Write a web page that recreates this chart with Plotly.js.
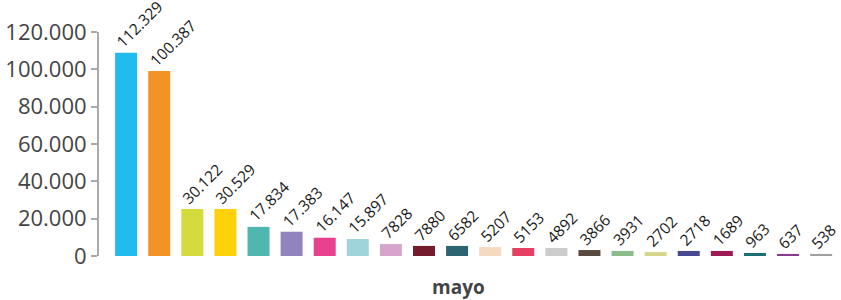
<!DOCTYPE html>
<html>
<head>
<meta charset="utf-8">
<script src="https://cdn.plot.ly/plotly-3.0.1.min.js"></script>
<style>html,body{margin:0;padding:0;background:#fff;}#chart{width:841px;height:300px;}</style>
</head>
<body>
<div id="chart"></div>
<script>
// Categories (one bar each), bar heights as drawn, and the value labels printed above them
const categories = ["c1","c2","c3","c4","c5","c6","c7","c8","c9","c10","c11","c12","c13","c14","c15","c16","c17","c18","c19","c20","c21","c22"];
const barValues = [108900, 99100, 25200, 25200, 15600, 13000, 9800, 9100, 6400, 5400, 5400, 4800, 4300, 4300, 3200, 2700, 2100, 2700, 2700, 1600, 1100, 1100];
const barLabels = ["112.329","100.387","30.122","30.529","17.834","17.383","16.147","15.897","7828","7880","6582","5207","5153","4892","3866","3931","2702","2718","1689","963","637","538"];
const barColors = ["#21BBEE","#F39325","#D5DB3C","#FFD10B","#4FB7B0","#9184BC","#E8428F","#9FD4DA","#D7A4CD","#741B2E","#2C6471","#F5DAC2","#E53F63","#CCCCCC","#5A4A3E","#8BBD8B","#D8D58A","#464891","#9E1A55","#1C6E74","#8B3A8F","#A0A0A0"];
const yTicks = [0, 20000, 40000, 60000, 80000, 100000, 120000];
const xTitle = "mayo";

const M = {l: 99, r: 4, t: 32, b: 44};
const plotW = 841 - M.l - M.r, plotH = 300 - M.t - M.b;

const trace = {
  type: "bar",
  x: categories,
  y: barValues,
  marker: {color: barColors, line: {width: 0}},
  hoverinfo: "none"
};

const annotations = categories.map((c, i) => ({
  x: c, y: barValues[i], xref: "x", yref: "y",
  text: barLabels[i], showarrow: false, textangle: -45, borderpad: 0,
  xanchor: "left", yanchor: "bottom", xshift: -16, yshift: -1,
  font: {family: "Open Sans", size: 15.5, color: "#1a1a1a"}
}));
annotations.push({
  x: (458 - M.l) / plotW, y: (300 - M.b - 287) / plotH, xref: "paper", yref: "paper",
  xanchor: "center", yanchor: "middle",
  text: "<b>" + xTitle + "</b>",
  showarrow: false, font: {family: "Open Sans", size: 19, color: "#444"}
});

const layout = {
  width: 841, height: 300,
  margin: M,
  paper_bgcolor: "#fff", plot_bgcolor: "#fff",
  separators: ",.",
  showlegend: false,
  bargap: 0.335,
  xaxis: {range: [-0.82, 21.48], showticklabels: false, ticks: "", showgrid: false, zeroline: false, showline: false, fixedrange: true},
  yaxis: {range: [0, 120000], tickvals: yTicks, tickformat: ",d", ticks: "outside", ticklen: 6, tickwidth: 2, tickcolor: "#aaa",
          showline: true, linecolor: "#aaa", linewidth: 2, showgrid: false, zeroline: false,
          tickfont: {family: "Open Sans", size: 22, color: "#444"}},
  annotations: annotations
};

Plotly.newPlot("chart", [trace], layout, {displayModeBar: false, staticPlot: true});
</script>
</body>
</html>
